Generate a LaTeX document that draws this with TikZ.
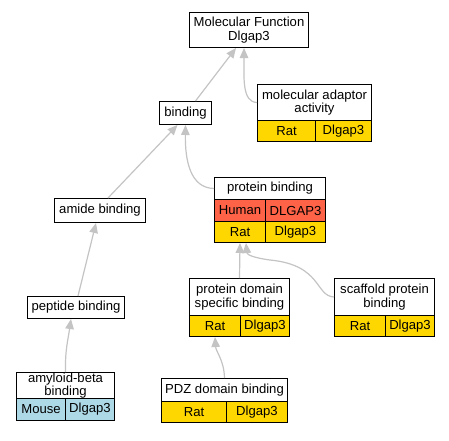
\documentclass[tikz,border=0pt]{standalone}
\usepackage{fontspec}
\setmainfont{Liberation Sans}
\usetikzlibrary{arrows.meta,calc}
\definecolor{gold}{HTML}{FFD700}
\definecolor{tomato}{HTML}{FF6347}
\definecolor{lblue}{HTML}{ADD8E6}
\definecolor{edgegray}{HTML}{C4C4C4}
\begin{document}
\begin{tikzpicture}[x=1pt,y=-1pt,
 box/.style={draw=black,line width=1pt,fill=white,inner sep=0pt,anchor=north west,align=center,font=\fontsize{13.1}{13.4}\selectfont},
 edge/.style={draw=edgegray,line width=1.2pt,-{Triangle[length=10pt,width=8.5pt]}}
]
\fill[white] (0,0) rectangle (449,440);
\useasboundingbox (0,0) rectangle (449,440);
\node[box,minimum width=119,minimum height=35] (mf) at (189,12) {Molecular Function\\Dlgap3};
\node[box,minimum width=114,minimum height=36] (ma) at (257,84) {molecular adaptor\\activity};
\node[box,fill=gold,minimum width=58,minimum height=21] (maA) at (257,120) {Rat};
\node[box,fill=gold,minimum width=56,minimum height=21] (maB) at (315,120) {Dlgap3};
\node[box,minimum width=52,minimum height=23] (bd) at (159,101) {binding};
\node[box,minimum width=111,minimum height=22] (pb) at (214,177) {protein binding};
\node[box,fill=tomato,minimum width=51,minimum height=22] (pbHa) at (214,199) {Human};
\node[box,fill=tomato,minimum width=60,minimum height=22] (pbHb) at (265,199) {DLGAP3};
\node[box,fill=gold,minimum width=51,minimum height=21] (pbRa) at (214,221) {Rat};
\node[box,fill=gold,minimum width=60,minimum height=21] (pbRb) at (265,221) {Dlgap3};
\node[box,minimum width=91,minimum height=24] (am) at (54,198) {amide binding};
\node[box,minimum width=100,minimum height=37] (pd) at (189,278) {protein domain\\specific binding};
\node[box,fill=gold,minimum width=51,minimum height=21] (pdA) at (189,315) {Rat};
\node[box,fill=gold,minimum width=49,minimum height=21] (pdB) at (240,315) {Dlgap3};
\node[box,minimum width=100,minimum height=37] (sc) at (334,278) {scaffold protein\\binding};
\node[box,fill=gold,minimum width=51,minimum height=21] (scA) at (334,315) {Rat};
\node[box,fill=gold,minimum width=49,minimum height=21] (scB) at (385,315) {Dlgap3};
\node[box,minimum width=97,minimum height=22] (pp) at (27,296) {peptide binding};
\node[box,minimum width=98,minimum height=26] (ab) at (16,372) {amyloid-beta\\binding};
\node[box,fill=lblue,minimum width=49,minimum height=22] (abA) at (16,398) {Mouse};
\node[box,fill=lblue,minimum width=49,minimum height=22] (abB) at (65,398) {Dlgap3};
\node[box,minimum width=126,minimum height=23] (pz) at (161,378) {PDZ domain binding};
\node[box,fill=gold,minimum width=65,minimum height=21] (pzA) at (161,401) {Rat};
\node[box,fill=gold,minimum width=61,minimum height=21] (pzB) at (226,401) {Dlgap3};
% edges
\draw[edge] ($(bd.north)+(10,0)$) -- ($(mf.south)+(-13,0)$);
\draw[edge] (ma.west) .. controls (242,102) and ($(mf.south)+(-5,30)$) .. ($(mf.south)+(-5,0)$);
\draw[edge] ($(am.north)+(8,0)$) -- ($(bd.south)+(-8,0)$);
\draw[edge] (pb.west) .. controls (190,188) and (185,160) .. (bd.south);
\draw[edge] ($(pp.north)+(2,0)$) -- ($(am.south)+(-4,0)$);
\draw[edge] (ab.north) .. controls (65,350) and (68,340) .. ($(pp.south)+(-5,0)$);
\draw[edge] (pd.north) -- (pbRa.south);
\draw[edge] (sc.west) .. controls (315,296) and (322,265) .. (270,260) .. controls (255,258) and (247,255) .. ($(pbRa.south)+(6,0)$);
\draw[edge] (pz.north) .. controls (224,360) and (216,352) .. (pdA.south);
\end{tikzpicture}
\end{document}
